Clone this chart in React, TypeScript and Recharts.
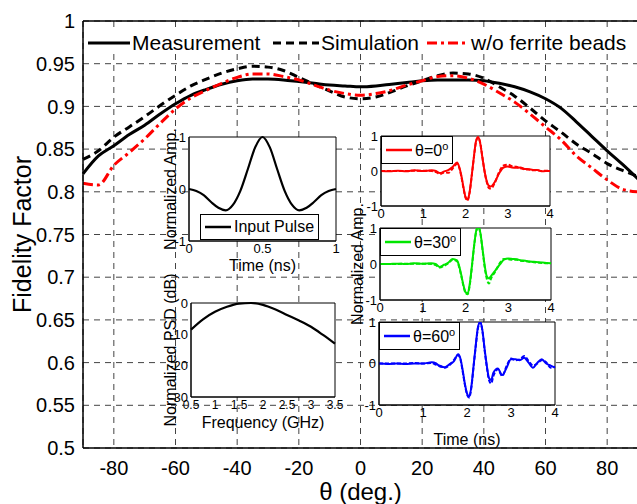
import React from 'react';
import { LineChart, Line, XAxis, YAxis, CartesianGrid, Legend, ReferenceLine, ReferenceArea } from 'recharts';

const FONT = '"Liberation Sans", Arial, sans-serif';

// main chart: fidelity factor vs angle
const angles = [-90, -85, -80, -75, -70, -65, -60, -55, -50, -45, -40, -35, -30, -25, -20, -15, -10, -5, 0, 5, 10, 15, 20, 25, 30, 35, 40, 45, 50, 55, 60, 65, 70, 75, 80, 85, 90];
const measurement = [0.821, 0.842, 0.854, 0.867, 0.878, 0.891, 0.903, 0.913, 0.920, 0.926, 0.930, 0.932, 0.932, 0.931, 0.929, 0.927, 0.925, 0.924, 0.923, 0.924, 0.926, 0.928, 0.930, 0.931, 0.931, 0.931, 0.930, 0.927, 0.923, 0.917, 0.909, 0.898, 0.882, 0.865, 0.848, 0.832, 0.815];
const simulation = [0.838, 0.848, 0.864, 0.876, 0.888, 0.901, 0.913, 0.924, 0.932, 0.939, 0.944, 0.947, 0.946, 0.942, 0.934, 0.926, 0.918, 0.911, 0.909, 0.911, 0.917, 0.924, 0.930, 0.936, 0.939, 0.938, 0.933, 0.923, 0.912, 0.898, 0.883, 0.870, 0.856, 0.845, 0.833, 0.825, 0.818];
const noFerrite = [0.810, 0.808, 0.831, 0.846, 0.862, 0.880, 0.897, 0.910, 0.919, 0.927, 0.934, 0.938, 0.938, 0.935, 0.931, 0.925, 0.919, 0.915, 0.913, 0.915, 0.919, 0.925, 0.930, 0.935, 0.936, 0.933, 0.926, 0.916, 0.905, 0.891, 0.876, 0.861, 0.842, 0.828, 0.814, 0.803, 0.800];
const angleTicks = [-80, -60, -40, -20, 0, 20, 40, 60, 80];
const fidelityTicks = [0.5, 0.55, 0.6, 0.65, 0.7, 0.75, 0.8, 0.85, 0.9, 0.95, 1];

// inset: input pulse
const pulseTime = [0, 0.05, 0.1, 0.15, 0.2, 0.25, 0.3, 0.35, 0.4, 0.45, 0.5, 0.55, 0.6, 0.65, 0.7, 0.75, 0.8, 0.85, 0.9, 0.95, 1];
const pulseAmp = [0, -0.04, -0.12, -0.25, -0.36, -0.41, -0.3, -0.03, 0.38, 0.8, 1, 0.8, 0.38, -0.03, -0.3, -0.41, -0.36, -0.25, -0.12, -0.04, 0];

// inset: PSD
const psdFreq = [0.5, 0.75, 1, 1.25, 1.5, 1.75, 2, 2.25, 2.5, 2.75, 3, 3.25, 3.5];
const psdDb = [-8.5, -5.2, -2.8, -1.2, -0.2, 0, -0.6, -2.0, -3.8, -5.6, -7.6, -10.2, -13];

// insets: received waveforms
const waveTime = [0, 0.2, 0.4, 0.6, 0.8, 1.0, 1.2, 1.3, 1.4, 1.5, 1.6, 1.7, 1.8, 1.85, 1.9, 1.95, 2.0, 2.05, 2.1, 2.15, 2.2, 2.25, 2.3, 2.35, 2.4, 2.45, 2.5, 2.55, 2.6, 2.7, 2.8, 2.9, 3.0, 3.1, 3.2, 3.3, 3.4, 3.5, 3.6, 3.7, 3.8, 3.9, 4.0];
const meas0 = [0, -0.01, 0.01, -0.01, 0.02, 0, 0.02, 0, -0.06, -0.01, 0.03, 0.12, 0.24, 0.12, -0.12, -0.45, -0.74, -0.82, -0.58, -0.1, 0.42, 0.86, 0.97, 0.78, 0.38, 0, -0.28, -0.42, -0.44, -0.3, -0.06, 0.1, 0.13, 0.1, 0.09, 0.1, 0.06, 0.05, 0.03, 0.03, -0.01, 0, 0];
const sim0 = [0, 0, 0, 0, 0.01, 0.01, 0, -0.03, -0.09, -0.04, -0.05, 0.08, 0.2, 0.1, -0.15, -0.48, -0.76, -0.84, -0.6, -0.12, 0.4, 0.84, 0.96, 0.8, 0.4, 0, -0.3, -0.48, -0.5, -0.32, -0.02, 0.16, 0.18, 0.14, 0.12, 0.08, 0.05, 0.04, 0.02, 0.02, 0, 0.01, 0];
const meas30 = [0, 0, 0.01, 0, 0.02, 0.01, 0.02, 0, -0.08, -0.02, 0.04, 0.14, 0.1, -0.05, -0.3, -0.58, -0.78, -0.82, -0.55, -0.05, 0.5, 0.92, 1.05, 0.85, 0.4, -0.05, -0.35, -0.4, -0.33, -0.18, -0.02, 0.12, 0.15, 0.14, 0.13, 0.1, 0.09, 0.07, 0.06, 0.05, 0.04, 0.03, 0.02];
const sim30 = [0, 0, 0, 0.01, 0.01, 0.01, 0, -0.03, -0.1, -0.05, 0.02, 0.12, 0.08, -0.08, -0.33, -0.6, -0.8, -0.84, -0.58, -0.08, 0.48, 0.9, 1.03, 0.84, 0.38, -0.1, -0.42, -0.54, -0.4, -0.2, 0.02, 0.14, 0.13, 0.12, 0.12, 0.09, 0.08, 0.06, 0.05, 0.04, 0.03, 0.02, 0.02];
const meas60 = [0, -0.01, 0, -0.01, 0, 0, 0.03, 0, -0.08, -0.09, -0.02, 0.05, 0.22, 0.12, -0.15, -0.48, -0.72, -0.8, -0.55, -0.05, 0.45, 0.88, 1.0, 0.8, 0.35, -0.05, -0.35, -0.4, -0.22, -0.12, -0.28, -0.1, 0.1, 0.1, 0.08, 0.14, 0.02, -0.1, 0.02, 0.1, 0, -0.05, -0.1];
const sim60 = [0, 0, 0, 0, 0.01, 0, 0.01, -0.03, -0.06, -0.1, -0.04, 0.08, 0.2, 0.1, -0.18, -0.5, -0.74, -0.82, -0.57, -0.07, 0.43, 0.86, 0.99, 0.79, 0.33, -0.08, -0.4, -0.48, -0.3, -0.14, -0.3, -0.06, 0.12, 0.08, 0.1, 0.18, 0.06, -0.05, 0.0, 0.08, 0.03, -0.1, -0.08];
const timeTicks = [0, 1, 2, 3, 4];
const ampTicks = [-1, 0, 1];

const mainData = angles.map((a, i) => ({ angle: a, meas: measurement[i], sim: simulation[i], noFerrite: noFerrite[i] }));
const pulseData = pulseTime.map((t, i) => ({ t, v: pulseAmp[i] }));
const psdData = psdFreq.map((f, i) => ({ f, v: psdDb[i] }));
const waveData = (m: number[], s: number[]) => waveTime.map((t, i) => ({ t, m: m[i], s: s[i] }));

const mainSeries = [
  { key: 'meas', name: 'Measurement', color: '#000', dash: undefined as string | undefined, w: 42 },
  { key: 'sim', name: 'Simulation', color: '#000', dash: '8 5', w: 46 },
  { key: 'noFerrite', name: 'w/o ferrite beads', color: '#ff0000', dash: '10 4 3 4', w: 42 },
];

const MainLegend = () => (
  <div style={{ display: 'flex', alignItems: 'center', background: '#fff', fontFamily: FONT, fontSize: 21, height: 22, whiteSpace: 'nowrap' }}>
    {mainSeries.map((s, i) => (
      <div key={s.key} style={{ display: 'flex', alignItems: 'center', width: i === 0 ? 185 : i === 1 ? 154 : undefined }}>
        <svg width={s.w} height={10}>
          <line x1={0} y1={5} x2={s.w} y2={5} stroke={s.color} strokeWidth={3} strokeDasharray={s.dash} />
        </svg>
        <span style={{ marginLeft: 2 }}>{s.name}</span>
      </div>
    ))}
  </div>
);

const BoxLegend = ({ color, label, sup }: { color: string; label: string; sup?: string }) => (
  <div style={{ display: 'flex', alignItems: 'center', background: '#fff', border: '1px solid #000', fontFamily: FONT, fontSize: 16, padding: '3px 4px', whiteSpace: 'nowrap' }}>
    <svg width={26} height={8}>
      <line x1={0} y1={4} x2={26} y2={4} stroke={color} strokeWidth={2.5} />
    </svg>
    <span style={{ marginLeft: 3 }}>
      {label}
      {sup && <sup style={{ fontSize: 11 }}>{sup}</sup>}
    </span>
  </div>
);

const tickStyle = { fill: '#000', fontSize: 13, fontFamily: FONT };
const labelStyle = { fill: '#000', fontSize: 16, fontFamily: FONT };

const WaveInset = ({ data, color, label, left, top, width, height, margin, yw, xh, showX, showY }: any) => (
  <div style={{ position: 'absolute', left, top }}>
    <LineChart width={width} height={height} data={data} margin={margin}>
      <CartesianGrid fill="#fff" horizontal={false} vertical={false} />
      <XAxis dataKey="t" type="number" domain={[0, 4]} ticks={timeTicks} tickLine={false} tickSize={0} tickMargin={3} height={xh}
        stroke="#000" tick={tickStyle} interval={0}
        label={showX ? { value: 'Time (ns)', position: 'insideBottom', offset: 7, style: labelStyle } : undefined} />
      <YAxis type="number" domain={[-1, 1]} ticks={ampTicks} tickLine={false} tickSize={0} tickMargin={3} width={yw}
        stroke="#000" tick={tickStyle} allowDataOverflow
        label={showY ? { value: 'Normalized Amp.', angle: -90, position: 'insideLeft', offset: 17, style: { ...labelStyle, textAnchor: 'middle' } } : undefined} />
      <Line dataKey="s" type="monotone" stroke={color} strokeWidth={2} strokeDasharray="4 2" dot={false} isAnimationActive={false} />
      <Line dataKey="m" type="monotone" stroke={color} strokeWidth={2} dot={false} isAnimationActive={false} />
      <ReferenceArea x1={0} x2={4} y1={-1} y2={1} fill="none" stroke="#000" strokeWidth={1} fillOpacity={0} />
      <Legend layout="horizontal" verticalAlign="middle" align="center"
        wrapperStyle={{ left: margin.left + yw, top: margin.top, width: 'auto' }}
        content={() => <BoxLegend color={color} label={label} sup="o" />} />
    </LineChart>
  </div>
);

export default function App() {
  return (
    <div style={{ position: 'absolute', left: 0, top: 0, width: 637, height: 504, overflow: 'hidden', background: '#fff' }}>
      <div style={{ position: 'absolute', left: 0, top: 0 }}>
        <LineChart width={640} height={504} data={mainData} margin={{ top: 21, right: 2, left: 0, bottom: 0 }}>
          <CartesianGrid stroke="#444" strokeDasharray="6 5" strokeWidth={1} />
          <XAxis dataKey="angle" type="number" domain={[-90, 90]} ticks={angleTicks} interval={0} height={56}
            tickLine={false} tickSize={0} tickMargin={13} stroke="#000" strokeWidth={1.5}
            tick={{ fill: '#000', fontSize: 20, fontFamily: FONT }}
            label={{ value: 'θ (deg.)', position: 'insideBottom', offset: 4, style: { fill: '#000', fontSize: 24, fontFamily: FONT } }} />
          <YAxis type="number" domain={[0.5, 1]} ticks={fidelityTicks} interval={0} width={83}
            tickLine={false} tickSize={0} tickMargin={8} stroke="#000" strokeWidth={1.5}
            tick={{ fill: '#000', fontSize: 20, fontFamily: FONT }}
            label={{ value: 'Fidelity Factor', angle: -90, position: 'insideLeft', offset: 22, style: { fill: '#000', fontSize: 25, fontFamily: FONT, textAnchor: 'middle' } }} />
          <ReferenceLine y={1} stroke="#000" strokeWidth={1.5} />
          {mainSeries.map((s) => (
            <Line key={s.key} dataKey={s.key} name={s.name} type="monotone" stroke={s.color} strokeWidth={3}
              strokeDasharray={s.dash} dot={false} isAnimationActive={false} />
          ))}
          <Legend layout="horizontal" verticalAlign="middle" align="center"
            wrapperStyle={{ left: 88, top: 32, width: 549 }} content={() => <MainLegend />} />
        </LineChart>
      </div>

      {/* input pulse */}
      <div style={{ position: 'absolute', left: 140, top: 110 }}>
        <LineChart width={210} height={170} data={pulseData} margin={{ top: 27, right: 14, left: 0, bottom: 0 }}>
          <CartesianGrid fill="#fff" horizontal={false} vertical={false} />
          <XAxis dataKey="t" type="number" domain={[0, 1]} ticks={[0, 0.5, 1]} interval={0} height={39}
            tickLine={false} tickSize={0} tickMargin={3} stroke="#000" tick={tickStyle}
            label={{ value: 'Time (ns)', position: 'insideBottom', offset: 9, style: labelStyle }} />
          <YAxis type="number" domain={[-1, 1]} ticks={ampTicks} width={49}
            tickLine={false} tickSize={0} tickMargin={3} stroke="#000" tick={tickStyle}
            label={{ value: 'Normalized Amp.', angle: -90, position: 'insideLeft', offset: 30, style: { ...labelStyle, textAnchor: 'middle' } }} />
          <Line dataKey="v" type="monotone" stroke="#000" strokeWidth={2.2} dot={false} isAnimationActive={false} />
          <ReferenceArea x1={0} x2={1} y1={-1} y2={1} fill="none" stroke="#000" strokeWidth={1} fillOpacity={0} />
          <Legend layout="horizontal" verticalAlign="middle" align="center"
            wrapperStyle={{ left: 60, top: 104, width: 'auto' }}
            content={() => <BoxLegend color="#000" label="Input Pulse" />} />
        </LineChart>
      </div>

      {/* PSD */}
      <div style={{ position: 'absolute', left: 140, top: 265 }}>
        <LineChart width={210} height={170} data={psdData} margin={{ top: 38, right: 15, left: 0, bottom: 0 }}>
          <CartesianGrid fill="#fff" horizontal={false} vertical={false} />
          <XAxis dataKey="f" type="number" domain={[0.5, 3.5]} ticks={[0.5, 1, 1.5, 2, 2.5, 3, 3.5]} interval={0} height={38}
            tickLine={false} tickSize={0} tickMargin={3} stroke="#000" tick={{ ...tickStyle, fontSize: 12 }}
            label={{ value: 'Frequency (GHz)', position: 'insideBottom', offset: 7, style: labelStyle }} />
          <YAxis type="number" domain={[-30, 0]} ticks={[-30, -20, -10, 0]} width={51}
            tickLine={false} tickSize={0} tickMargin={3} stroke="#000" tick={tickStyle}
            label={{ value: 'Normalized PSD (dB)', angle: -90, position: 'insideLeft', offset: 30, style: { ...labelStyle, textAnchor: 'middle' } }} />
          <Line dataKey="v" type="monotone" stroke="#000" strokeWidth={2.2} dot={false} isAnimationActive={false} />
          <ReferenceArea x1={0.5} x2={3.5} y1={-30} y2={0} fill="none" stroke="#000" strokeWidth={1} fillOpacity={0} />
        </LineChart>
      </div>

      <WaveInset data={waveData(meas0, sim0)} color="#ff0000" label="θ=0" left={340} top={125} width={230} height={100}
        margin={{ top: 11, right: 20, left: 0, bottom: 0 }} yw={41} xh={19} />
      <WaveInset data={waveData(meas30, sim30)} color="#00e600" label="θ=30" left={340} top={190} width={230} height={150}
        margin={{ top: 38, right: 19, left: 0, bottom: 22 }} yw={40} xh={18} showY />
      <WaveInset data={waveData(meas60, sim60)} color="#0000ff" label="θ=60" left={340} top={312} width={230} height={140}
        margin={{ top: 10, right: 15, left: 0, bottom: 0 }} yw={39} xh={47} showX />
    </div>
  );
}
